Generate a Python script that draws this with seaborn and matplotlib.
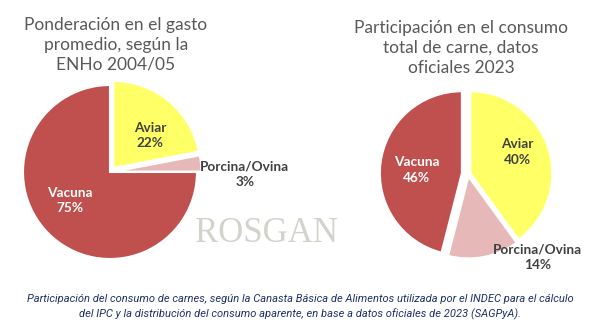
import matplotlib
matplotlib.use("Agg")
import matplotlib.pyplot as plt
import seaborn as sns

sns.set_theme(style="white")
plt.rcParams['font.family'] = ['Lato', 'DejaVu Sans']

# Data
categories = ["Aviar", "Porcina/Ovina", "Vacuna"]
gasto_2004 = [22, 3, 75]
consumo_2023 = [40, 14, 46]
title_left = "Ponderación en el gasto\npromedio, según la\nENHo 2004/05"
title_right = "Participación en el consumo\ntotal de carne, datos\noficiales 2023"
caption = ("Participación del consumo de carnes, según la Canasta Básica de Alimentos utilizada por el INDEC para el cálculo\n"
           "del IPC y la distribución del consumo aparente, en base a datos oficiales de 2023 (SAGPyA).")

colors = ["#FFFF66", "#E6B9B8", "#C0504D"]
label_colors = ["#404040", "#404040", "white"]

W, H = 597, 328
fig = plt.figure(figsize=(W / 100, H / 100), dpi=100)
fig.patch.set_facecolor("white")

L = 1.25


def make_ax(cx, cy, r):
    size = 2 * L * r
    ax = fig.add_axes([(cx - size / 2) / W, (H - cy - size / 2) / H, size / W, size / H])
    return ax


def draw(ax, values, explode, label_pos):
    ax.pie(values, colors=colors, startangle=90, counterclock=False,
           explode=explode, wedgeprops=dict(edgecolor="white", linewidth=1.5))
    ax.set_xlim(-L, L)
    ax.set_ylim(-L, L)
    ax.set_aspect("equal")
    ax.axis("off")
    for cat, v, col, (x, y) in zip(categories, values, label_colors, label_pos):
        ax.text(x, y, f"{cat}\n{v}%", ha="center", va="center", color=col,
                fontsize=9.8, fontweight="bold", linespacing=1.35)


ax1 = make_ax(110, 172, 87)
draw(ax1, gasto_2004, [0.06, 0.05, 0.0],
     [(0.46, 0.42), (1.55, -0.03), (-0.46, -0.33)])

ax2 = make_ax(468, 174, 82)
draw(ax2, consumo_2023, [0.03, 0.03, 0.075],
     [(0.6, 0.27), (0.85, -1.02), (-0.63, 0.05)])

fig.text(116 / W, 1 - 45 / H, title_left, ha="center", va="center",
         fontsize=12.5, color="#595959", linespacing=1.3)
fig.text(461 / W, 1 - 48 / H, title_right, ha="center", va="center",
         fontsize=12.5, color="#595959", linespacing=1.3)

fig.text(266 / W, 1 - 234 / H, "ROSGAN", ha="center", va="center",
         fontsize=25, color="#D3D3CC", family="Liberation Serif", zorder=-1)

fig.text(300 / W, 1 - 307 / H, caption, ha="center", va="center",
         fontsize=8.0, color="#1F3266", style="italic", family="Roboto",
         linespacing=1.4)

fig.savefig("out.png", dpi=100, facecolor="white")
